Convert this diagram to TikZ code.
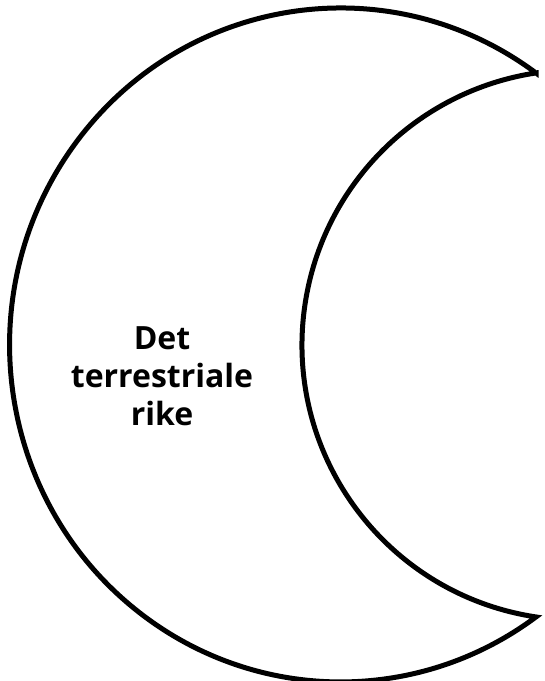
\documentclass[tikz,border=0pt]{standalone}
\usepackage{fontspec}
\setsansfont{Open Sans}
\usetikzlibrary{positioning}

\begin{document}
\begin{tikzpicture}[
  x=1pt, y=1pt,
  every node/.style={font=\sffamily\bfseries\fontsize{32}{38}\selectfont},
  moon/.style={
    draw=black, line width=5pt, fill=white,
    line join=miter, miter limit=20},
  lbl/.style={align=center, inner sep=0pt},
]

\useasboundingbox (0,0) rectangle (545,681);

% crescent: outer arc, then inner arc back to the upper tip
\coordinate (tiptop) at (536,608);
\draw[moon]
  (tiptop)
  arc[start angle=53.81, end angle=306.19, x radius=331, y radius=337]
  arc[start angle=261.41, end angle=98.59, radius=275.1]
  -- cycle;

\node[lbl] (name) at (162,305) {Det\\terrestriale\\rike};

\end{tikzpicture}
\end{document}
